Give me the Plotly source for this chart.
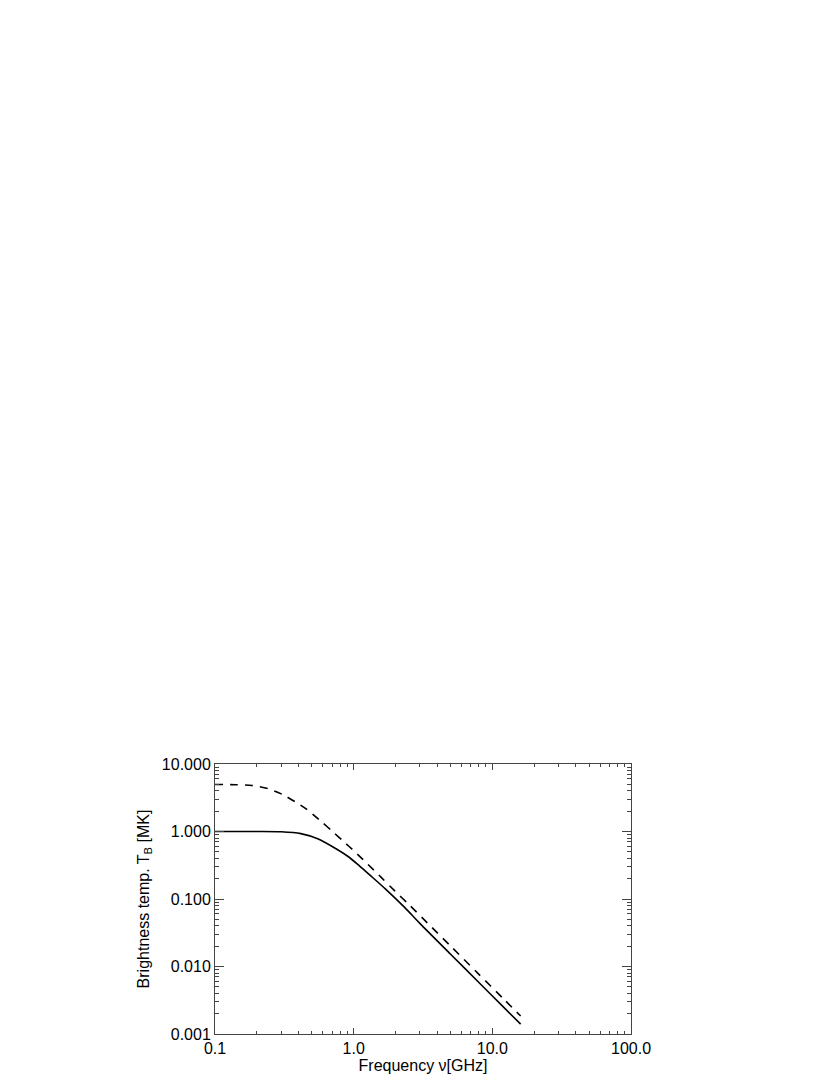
import plotly.graph_objects as go

# frequency [GHz] and brightness temperature [MK]
freq_solid = [0.10, 0.20, 0.30, 0.416, 0.55, 0.725, 0.906, 1.1, 1.33, 1.7, 2.33, 3.0, 5.0, 8.0, 12.0, 16.0]
tb_solid = [1.0, 1.0, 0.99, 0.93, 0.78, 0.575, 0.43, 0.31, 0.22, 0.14, 0.075, 0.0435, 0.0152, 0.0058, 0.00252, 0.0014]

freq_dashed = [0.10, 0.14, 0.185, 0.24, 0.31, 0.39, 0.46, 0.58, 0.72, 0.86, 1.0, 1.26, 1.6, 1.97, 2.5, 3.41, 5.0, 8.0, 12.0, 16.0]
tb_dashed = [4.97, 4.93, 4.80, 4.32, 3.5, 2.65, 2.12, 1.42, 0.96, 0.69, 0.52, 0.33, 0.204, 0.133, 0.083, 0.044, 0.0201, 0.00766, 0.00334, 0.00185]

x_ticks = [0.1, 1, 10, 100]
x_ticklabels = ["0.1", "1.0", "10.0", "100.0"]
y_ticks = [0.001, 0.01, 0.1, 1, 10]
y_ticklabels = ["0.001", "0.010", "0.100", "1.000", "10.000"]

FONT = "Liberation Sans, Arial, Helvetica, sans-serif"
AXIS_COLOR = "#444444"

fig = go.Figure()
fig.add_trace(go.Scatter(x=freq_solid, y=tb_solid, mode="lines", line=dict(color="black", width=1.6, shape="spline", smoothing=0.8), showlegend=False))
fig.add_trace(go.Scatter(x=freq_dashed, y=tb_dashed, mode="lines", line=dict(color="black", width=1.6, dash="8px,7px", shape="spline", smoothing=0.8), showlegend=False))

axis_common = dict(
    type="log",
    showgrid=False,
    zeroline=False,
    showline=True,
    linecolor=AXIS_COLOR,
    linewidth=1,
    mirror="ticks",
    ticks="inside",
    tickcolor=AXIS_COLOR,
    tickfont=dict(family=FONT, size=16, color="black"),
)

fig.update_layout(
    width=830,
    height=1081,
    paper_bgcolor="white",
    plot_bgcolor="white",
    margin=dict(l=207, r=207, t=756, b=55),
    font=dict(family=FONT, color="black"),
    xaxis=dict(
        **axis_common,
        range=[-1, 2],
        tickvals=x_ticks,
        ticktext=x_ticklabels,
        ticklen=6,
        minor=dict(ticks="inside", ticklen=3, tickcolor=AXIS_COLOR, dtick="D1", showgrid=False),
        title=dict(text="Frequency ν[GHz]", font=dict(family=FONT, size=16), standoff=2),
    ),
    yaxis=dict(
        **axis_common,
        range=[-3, 1],
        tickvals=y_ticks,
        ticktext=y_ticklabels,
        ticklen=9,
        minor=dict(ticks="inside", ticklen=4, tickcolor=AXIS_COLOR, dtick="D1", showgrid=False),
        title=dict(text="Brightness temp. T<sub>B</sub> [MK]", font=dict(family=FONT, size=16), standoff=8),
    ),
)

fig.write_html("out.html")
